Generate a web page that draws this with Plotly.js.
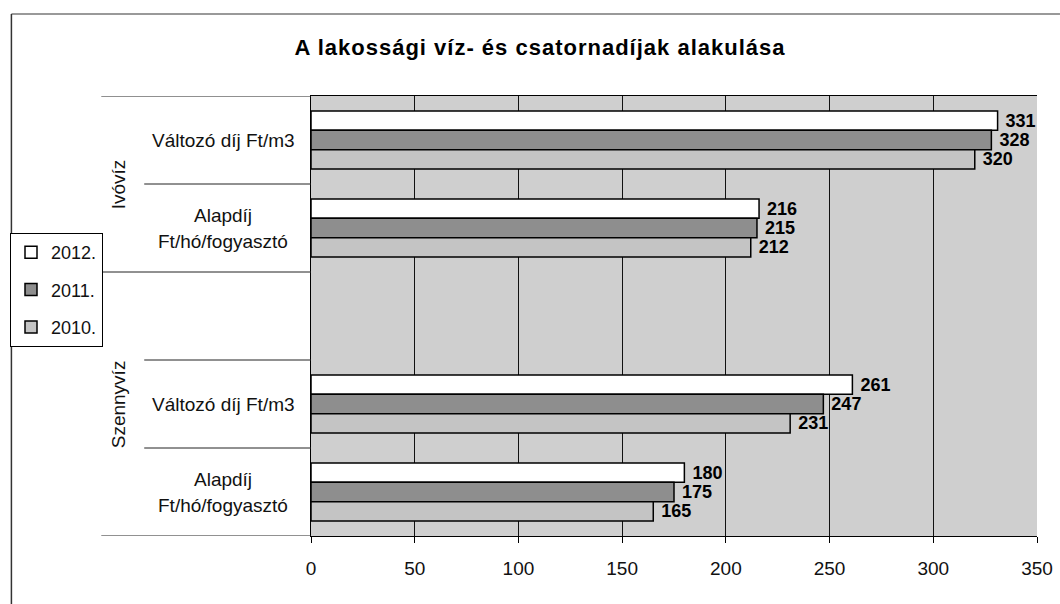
<!DOCTYPE html>
<html>
<head>
<meta charset="utf-8">
<script src="https://cdn.plot.ly/plotly-3.0.1.min.js"></script>
<style>html,body{margin:0;padding:0;background:#fff;}#chart{width:1060px;height:604px;}
#chart .gtitle{letter-spacing:1px;}</style>
</head>
<body>
<div id="chart"></div>
<script>
// ---- data ----
const slotLabels = ["Változó díj Ft/m3", "Alapdíj<br>Ft/hó/fogyasztó", "", "Változó díj Ft/m3", "Alapdíj<br>Ft/hó/fogyasztó"];
const slotPos = [0, 1, 3, 4];           // slot index of each data category (slot 2 is empty)
const groupLabels = ["Ivóvíz", "Szennyvíz"];
const groupCenters = [0.5, 3];
const seriesNames = ["2012.", "2011.", "2010."];
const values2012 = [331, 216, 261, 180];
const values2011 = [328, 215, 247, 175];
const values2010 = [320, 212, 231, 165];
const xTicks = [0, 50, 100, 150, 200, 250, 300, 350];

const FONT = "Liberation Sans, Arial, Helvetica, sans-serif";
const colors = ["#ffffff", "#8e8e8e", "#c4c4c4"];
const seriesVals = [values2012, values2011, values2010];

const L = 310, R = 1037, T = 96, B = 536;
const pxX = px => (px - L) / (R - L);
const pxY = py => (B - py) / (B - T);

const traces = seriesNames.map((n, i) => ({
  type: "bar",
  orientation: "h",
  name: n,
  x: seriesVals[i],
  y: slotPos,
  marker: {color: colors[i], line: {color: "#000", width: 1.5}},
  text: seriesVals[i].map(v => "\u00a0" + v),
  textposition: "outside",
  constraintext: "none",
  cliponaxis: false,
  textfont: {family: FONT, size: 18, color: "#000", weight: "bold"},
  legendgroup: "g" + i,
  hoverinfo: "x+name"
}));

const annotations = [];
slotLabels.forEach((lab, i) => {
  if (!lab) return;
  const lines = lab.split("<br>");
  lines.forEach((ln, j) => {
    const shift = (lines.length - 1) * 13 - j * 26;
    annotations.push({
      xref: "paper", yref: "y", x: pxX(222), y: i, text: ln, showarrow: false,
      xanchor: "center", yanchor: "middle", yshift: shift,
      font: {family: FONT, size: 19, color: "#111"}
    });
  });
});
groupLabels.forEach((g, i) => {
  annotations.push({
    xref: "paper", yref: "y", x: pxX(117), y: groupCenters[i], text: g, showarrow: false,
    textangle: -90, xanchor: "center", yanchor: "middle",
    font: {family: FONT, size: 19, color: "#111"}
  });
});

const shapes = [];
const dividers = [[-0.5, 100], [0.5, 143], [1.5, 100], [2.5, 143], [3.5, 143], [4.5, 100]];
dividers.forEach(d => shapes.push({
  type: "line", xref: "paper", yref: "y", x0: pxX(d[1]), x1: 0, y0: d[0], y1: d[0],
  line: {color: "#222", width: 1}
}));
// outer chart border (top and left)
shapes.push({type: "line", xref: "paper", yref: "paper", x0: pxX(10), x1: pxX(1060), y0: pxY(14), y1: pxY(14), line: {color: "#777", width: 1.5}});
shapes.push({type: "line", xref: "paper", yref: "paper", x0: pxX(10), x1: pxX(10), y0: pxY(14), y1: pxY(604), line: {color: "#333", width: 1.5}});

const layout = {
  width: 1060, height: 604,
  margin: {l: L, r: 1060 - R, t: T, b: 604 - B, pad: 0},
  paper_bgcolor: "#ffffff",
  plot_bgcolor: "#cfcfcf",
  barmode: "group",
  bargap: 0.34,
  bargroupgap: 0,
  title: {
    text: "<b>A lakossági víz- és csatornadíjak alakulása</b>",
    x: 540 / 1060, xanchor: "center", y: 1 - 47 / 604, yanchor: "middle",
    font: {family: FONT, size: 22, color: "#000"}
  },
  xaxis: {
    range: [0, 350], tickvals: xTicks, ticktext: xTicks.map(String),
    showgrid: true, gridcolor: "#111", gridwidth: 1,
    zeroline: false, showline: true, linecolor: "#000", linewidth: 1, mirror: true,
    ticks: "outside", ticklen: 6, tickcolor: "#000", ticklabelstandoff: 9,
    tickfont: {family: FONT, size: 19, color: "#111"}, fixedrange: true
  },
  yaxis: {
    range: [4.5, -0.5], showticklabels: false, showgrid: false, zeroline: false,
    showline: true, linecolor: "#000", linewidth: 1, ticks: "", fixedrange: true
  },
  showlegend: true,
  legend: {
    x: pxX(10), xanchor: "left", y: pxY(233), yanchor: "top",
    bgcolor: "#fff", bordercolor: "#000", borderwidth: 1,
    font: {family: FONT, size: 18, color: "#111"},
    traceorder: "grouped", tracegroupgap: 11, itemwidth: 30
  },
  annotations: annotations,
  shapes: shapes
};

Plotly.newPlot("chart", traces, layout, {displayModeBar: false, staticPlot: true});
</script>
</body>
</html>
